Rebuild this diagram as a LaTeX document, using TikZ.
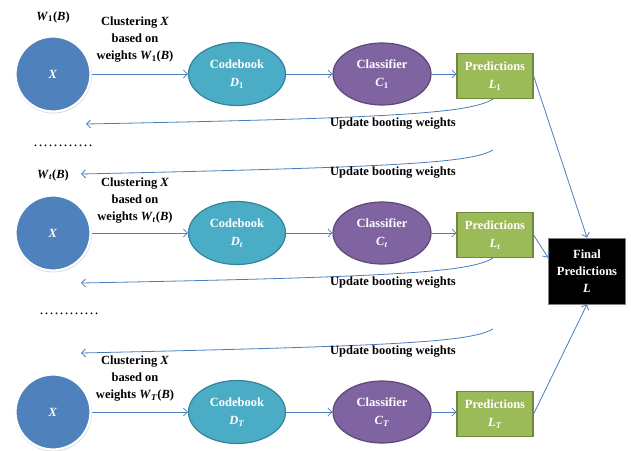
\documentclass[tikz,border=0pt]{standalone}
\usepackage{fontspec}
\setmainfont{Liberation Serif}
\usetikzlibrary{arrows.meta,shadows,calc,shapes.geometric}
\definecolor{lnk}{HTML}{4A7EBB}
\definecolor{cblue}{HTML}{4F81BD}
\definecolor{caqua}{HTML}{4BACC6}
\definecolor{caquad}{HTML}{31849B}
\definecolor{cpurp}{HTML}{8064A2}
\definecolor{cpurpd}{HTML}{5C4776}
\definecolor{cgreen}{HTML}{9BBB59}
\definecolor{cgreend}{HTML}{71893F}
\tikzset{
  base/.style={font=\fontsize{12.5}{18.5}\selectfont\bfseries, align=center, inner sep=0pt},
  xcirc/.style={base, circle, minimum size=75pt, fill=cblue, draw=white, line width=2.2pt, text=white,
     drop shadow={shadow xshift=0.3pt, shadow yshift=-0.8pt, shadow scale=1.03, opacity=0.3}},
  cbook/.style={base, ellipse, minimum width=97pt, minimum height=63pt, fill=caqua, draw=caquad, line width=1.2pt, text=white},
  clsf/.style={base, ellipse, minimum width=98pt, minimum height=62pt, fill=cpurp, draw=cpurpd, line width=1.2pt, text=white},
  pred/.style={base, rectangle, minimum width=76pt, minimum height=45pt, fill=cgreen, draw=cgreend, line width=1.2pt, text=white},
  finalbox/.style={base, rectangle, minimum width=77pt, minimum height=66pt, fill=black, draw=gray, line width=0.8pt, text=white,
     font=\fontsize{12.5}{17}\selectfont\bfseries},
  lbl/.style={base, text=black, font=\fontsize{12.5}{17}\selectfont\bfseries},
  conn/.style={draw=lnk, line width=0.8pt, -{Straight Barb[length=4pt,width=8pt]}},
}
\begin{document}
\begin{tikzpicture}[x=1pt,y=-1pt]
\useasboundingbox (0,0) rectangle (631,450);
% row 1
\node[xcirc] (x1) at (53,74) {\textit{X}};
\node[cbook] (d1) at (237,74) {Codebook\\\textit{D}\textsubscript{1}};
\node[clsf] (c1) at (382,74) {Classifier\\\textit{C}\textsubscript{1}};
\node[pred] (p1) at (495,76) {Predictions\\\textit{L}\textsubscript{1}};
\node[lbl] (w1) at (53,17) {\textit{W}\textsubscript{1}(\textit{B})};
\node[lbl] (k1) at (135,40) {Clustering \textit{X}\\based on\\weights \textit{W}\textsubscript{1}(\textit{B})};
% row t
\node[xcirc] (xt) at (53,233) {\textit{X}};
\node[cbook] (dt) at (237,233) {Codebook\\\textit{D}\textsubscript{\textit{t}}};
\node[clsf] (ct) at (382,233) {Classifier\\\textit{C}\textsubscript{\textit{t}}};
\node[pred] (pt) at (495,235) {Predictions\\\textit{L}\textsubscript{\textit{t}}};
\node[lbl] (wt) at (53,175) {\textit{W}\textsubscript{\textit{t}}(\textit{B})};
\node[lbl] (kt) at (135,201) {Clustering \textit{X}\\based on\\weights \textit{W}\textsubscript{\textit{t}}(\textit{B})};
% row T
\node[xcirc] (xT) at (53,412) {\textit{X}};
\node[cbook] (dT) at (237,412) {Codebook\\\textit{D}\textsubscript{\textit{T}}};
\node[clsf] (cT) at (382,412) {Classifier\\\textit{C}\textsubscript{\textit{T}}};
\node[pred] (pT) at (495,414) {Predictions\\\textit{L}\textsubscript{\textit{T}}};
\node[lbl] (kT) at (135,379) {Clustering \textit{X}\\based on\\weights \textit{W}\textsubscript{\textit{T}}(\textit{B})};
% final
\node[finalbox] (fin) at (587,271) {Final\\Predictions\\\textit{L}};
% dots
\node[lbl, font=\fontsize{15}{15}\selectfont] (dots1) at (63,146) {…………};
\node[lbl, font=\fontsize{15}{15}\selectfont] (dots2) at (69,314) {…………};
% row arrows
\foreach \r in {1,t,T}{
  \draw[conn] (x\r.east) -- (d\r.west);
  \draw[conn] (d\r.east) -- (c\r.west);
  \draw[conn] (c\r.east) -- (c\r.east -| p\r.west);
}
% to final
\draw[conn] (p1.east) -- (fin.north);
\draw[conn] (pt.east) -- ($(fin.north west)!0.3!(fin.south west)$);
\draw[conn] (pT.east) -- (fin.south);
% feedback curves
\coordinate (f1) at (86,124);
\coordinate (s2) at (493,150);
\coordinate (f2) at (81,174);
\coordinate (f3) at (81,283);
\coordinate (s4) at (493,329);
\coordinate (f4) at (81,353);
\draw[conn] ([xshift=-2pt]p1.south) .. controls (470,113) and (400,118) .. (f1);
\draw[conn] (s2) .. controls (470,163) and (400,167) .. (f2);
\draw[conn] ([xshift=-2pt]pt.south) .. controls (470,272) and (400,277) .. (f3);
\draw[conn] (s4) .. controls (470,342) and (400,346) .. (f4);
% update labels
\node[lbl] (u1) at (393,124) {Update booting weights};
\node[lbl] (u2) at (393,173) {Update booting weights};
\node[lbl] (u3) at (393,283) {Update booting weights};
\node[lbl] (u4) at (393,352) {Update booting weights};
\end{tikzpicture}
\end{document}
